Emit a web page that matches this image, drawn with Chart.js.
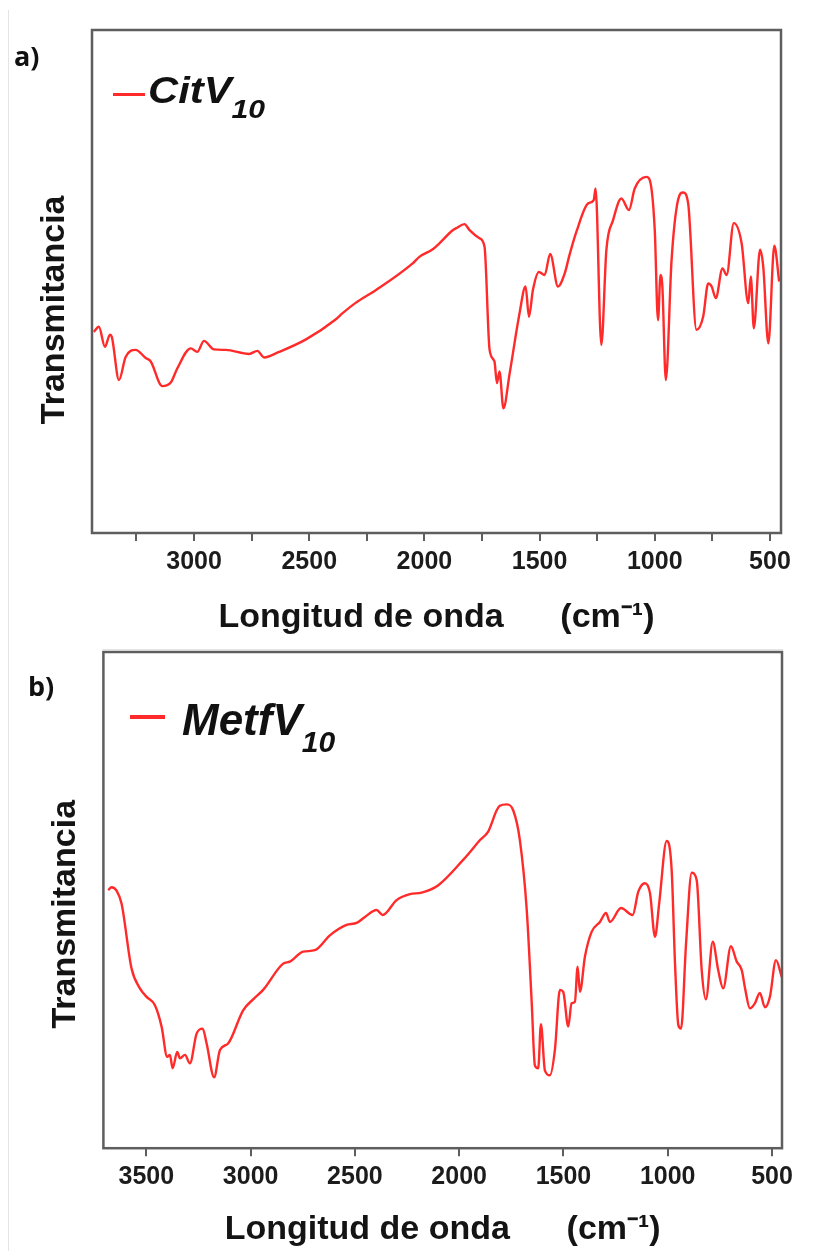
<!DOCTYPE html>
<html>
<head>
<meta charset="utf-8">
<script src="https://cdn.jsdelivr.net/npm/chart.js@4.4.1/dist/chart.umd.min.js"></script>
<style>
    body {
        margin: 0;
        background: #fff;
        width: 819px;
        height: 1251px;
        position: relative;
        overflow: hidden;
        font-family: "Liberation Sans", Arial, sans-serif;
    }
    canvas { position: absolute; left: 0; }
    #chartA { top: 0; }
    #chartB { top: 649px; }
    .panel-label {
        position: absolute;
        font-family: "Open Sans", sans-serif;
        font-weight: 700;
        font-size: 27px;
        line-height: 27px;
        color: #111;
    }
    .legend-line { position: absolute; background: #ff2b2b; }
    .legend-text {
        position: absolute;
        font-weight: bold;
        font-style: italic;
        line-height: 1;
        color: #111;
        white-space: nowrap;
        transform-origin: left top;
    }
    .legend-text span { position: relative; }
    .edge-v { position: absolute; left: 8px; top: 10px; width: 1px; height: 1241px; background: #e4e4e4; }
    .edge-h { position: absolute; left: 103px; top: 649px; width: 680px; height: 1px; background: #e4e4e4; }
</style>
</head>
<body>
<div class="edge-v"></div>
<div class="edge-h"></div>

<canvas id="chartA" width="819" height="650"></canvas>
<canvas id="chartB" width="819" height="602"></canvas>

<div class="panel-label" style="left:14px; top:42px;">a)</div>
<div class="legend-line" style="left:113px; top:93px; width:32px; height:3px;"></div>
<div class="legend-text" style="left:148px; top:73px; font-size:36px; transform:scaleX(1.16);">CitV<span style="font-size:26px; top:15px;">10</span></div>

<div class="panel-label" style="left:28px; top:672px;">b)</div>
<div class="legend-line" style="left:130px; top:715px; width:35px; height:3.5px;"></div>
<div class="legend-text" style="left:182px; top:698px; font-size:44px;">MetfV<span style="font-size:30px; top:17px;">10</span></div>

<script>
// a) CitV10 - numero de onda (cm-1) y transmitancia (u.a.)
const citWavenumber = [3435, 3413, 3387, 3365, 3357, 3326, 3297, 3254, 3210, 3188,
    3138, 3101, 3073, 3014, 2986, 2957, 2913, 2862, 2761, 2725,
    2696, 2631, 2514, 2384, 2355, 2297, 2210, 2051, 2022, 1964,
    1935, 1877, 1862, 1826, 1804, 1761, 1739, 1717, 1696, 1685,
    1674, 1657, 1630, 1587, 1561, 1546, 1529, 1503, 1478, 1454,
    1420, 1391, 1370, 1340, 1290, 1265, 1257, 1232, 1210, 1181,
    1145, 1112, 1087, 1036, 1022, 1000, 986, 975, 967, 952,
    927, 899, 877, 855, 819, 790, 768, 753, 735, 706,
    688, 657, 623, 594, 583, 570, 543, 529, 507, 481, 460];
const citTransmittance = [40.0, 41.0, 37.0, 39.4, 39.0, 30.4, 35.0, 36.4, 34.8, 34.1,
    29.2, 29.9, 32.7, 36.7, 36.0, 38.2, 36.5, 36.4, 35.6, 36.2,
    34.9, 36.0, 38.5, 42.5, 43.7, 45.8, 48.3, 53.6, 54.9, 56.4,
    57.6, 60.2, 60.6, 61.4, 60.2, 58.6, 56.9, 36.4, 34.1, 29.8,
    32.1, 24.8, 31.7, 43.7, 49.0, 43.0, 48.3, 51.9, 51.3, 55.5,
    49.0, 51.6, 55.3, 59.9, 65.5, 66.2, 68.5, 37.4, 56.3, 62.2,
    66.5, 64.2, 68.5, 70.8, 70.2, 60.2, 42.3, 51.3, 49.0, 30.4,
    54.3, 66.2, 67.7, 65.5, 40.4, 43.0, 49.6, 49.0, 46.7, 52.6,
    51.3, 61.6, 57.6, 45.7, 51.0, 40.7, 56.3, 52.9, 37.7, 57.1, 50.0];
const citTicks = [3250, 3000, 2750, 2500, 2250, 2000, 1750, 1500, 1250, 1000, 750, 500];

// b) MetfV10
const metWavenumber = [3683, 3667, 3643, 3619, 3571, 3531, 3499, 3459, 3427, 3400,
    3387, 3374, 3352, 3339, 3315, 3291, 3259, 3230, 3211, 3175,
    3147, 3108, 3036, 2988, 2940, 2844, 2812, 2748, 2692, 2620,
    2540, 2492, 2452, 2396, 2367, 2300, 2236, 2180, 2100, 1981,
    1948, 1900, 1861, 1820, 1805, 1772, 1741, 1709, 1676, 1652,
    1637, 1621, 1608, 1589, 1565, 1541, 1517, 1501, 1477, 1461,
    1445, 1432, 1421, 1397, 1365, 1325, 1296, 1277, 1224, 1168,
    1141, 1109, 1085, 1061, 1041, 1005, 981, 965, 949, 936,
    912, 885, 861, 837, 817, 784, 758, 734, 697, 669,
    645, 629, 606, 582, 558, 534, 510, 481, 453];
const metTransmittance = [52.0, 52.6, 51.9, 49.3, 36.2, 32.2, 30.5, 28.8, 24.5, 18.4,
    18.8, 16.1, 19.4, 18.1, 18.8, 17.1, 23.1, 24.1, 21.1, 14.3,
    19.8, 21.1, 27.8, 30.0, 31.9, 37.2, 37.6, 39.6, 39.9, 42.9,
    45.0, 45.4, 46.6, 48.0, 47.0, 50.0, 51.2, 51.5, 53.0, 58.1,
    59.7, 62.1, 63.8, 68.1, 69.0, 69.3, 68.1, 62.1, 48.0, 29.2,
    16.7, 16.1, 25.0, 15.7, 14.7, 19.8, 31.9, 31.5, 24.5, 29.2,
    29.5, 36.6, 31.5, 38.6, 43.6, 45.6, 47.4, 45.6, 48.4, 47.0,
    51.7, 53.4, 51.4, 42.6, 49.3, 61.9, 56.0, 37.2, 24.8, 24.1,
    41.3, 55.5, 54.0, 35.9, 30.0, 41.6, 35.9, 32.2, 40.7, 37.6,
    35.9, 32.2, 28.2, 29.2, 31.3, 28.4, 30.5, 37.9, 34.5];
const metTicks = [3500, 3000, 2500, 2000, 1500, 1000, 500];

const lineColor = "#ff2b2b";
const axisColor = "#5e5e5e";
const textColor = "#141414";

// marco completo alrededor del area del grafico
const framePlugin = {
    id: "frame",
    afterDatasetsDraw(chart) {
        const { ctx, chartArea: a } = chart;
        ctx.save();
        ctx.strokeStyle = axisColor;
        ctx.lineWidth = 2.5;
        ctx.strokeRect(a.left, a.top, a.right - a.left, a.bottom - a.top);
        ctx.restore();
    }
};

function makeChart(id, cfg) {

    const points = cfg.wavenumber.map((wn, i) => ({ x: wn, y: cfg.values[i] }));

    return new Chart(document.getElementById(id), {
        type: "line",
        data: {
            datasets: [{
                label: cfg.label,
                data: points,
                borderColor: lineColor,
                borderWidth: 2.4,
                pointRadius: 0,
                cubicInterpolationMode: "monotone"
            }]
        },
        options: {
            responsive: false,
            animation: false,
            layout: { padding: cfg.padding },
            plugins: {
                legend: { display: false },
                tooltip: { enabled: false }
            },
            scales: {
                x: {
                    type: "linear",
                    reverse: true,
                    min: cfg.xMin,
                    max: cfg.xMax,
                    afterBuildTicks: scale => {
                        scale.ticks = cfg.ticks.map(v => ({ value: v }));
                    },
                    ticks: {
                        autoSkip: false,
                        maxRotation: 0,
                        padding: 6,
                        color: "#1c1c1c",
                        font: { family: "'Liberation Sans', Arial", size: 25, weight: "bold" },
                        callback: v => (v % 500 === 0 ? String(v) : "")
                    },
                    grid: {
                        drawOnChartArea: false,
                        drawTicks: true,
                        tickLength: 8,
                        color: axisColor,
                        lineWidth: 2
                    },
                    border: { display: false },
                    title: {
                        display: true,
                        text: "Longitud de onda      (cm⁻¹)",
                        color: textColor,
                        font: { family: "'Liberation Sans', Arial", size: 34, weight: "bold" },
                        padding: { top: cfg.xTitlePadTop, bottom: 1 }
                    }
                },
                y: {
                    min: 0,
                    max: 100,
                    ticks: { display: false },
                    grid: { display: false, drawTicks: false },
                    border: { display: false },
                    title: {
                        display: true,
                        text: cfg.yTitle,
                        color: textColor,
                        font: { family: "'Liberation Sans', Arial", size: 34, weight: "bold" },
                        padding: { top: 4, bottom: cfg.yTitlePadBottom }
                    }
                }
            }
        },
        plugins: [framePlugin]
    });
}

makeChart("chartA", {
    label: "CitV10",
    wavenumber: citWavenumber,
    values: citTransmittance,
    ticks: citTicks,
    xMin: 452,
    xMax: 3443,
    yTitle: "Transmitancia      ",
    yTitlePadBottom: 16.6,
    xTitlePadTop: 14.6,
    padding: { left: 30.6, top: 30, right: 38, bottom: 10.6 }
});

makeChart("chartB", {
    label: "MetfV10",
    wavenumber: metWavenumber,
    values: metTransmittance,
    ticks: metTicks,
    xMin: 452,
    xMax: 3706,
    yTitle: "Transmitancia   ",
    yTitlePadBottom: 17.6,
    xTitlePadTop: 11,
    padding: { left: 41, top: 3, right: 37, bottom: 0 }
});
</script>
</body>
</html>
